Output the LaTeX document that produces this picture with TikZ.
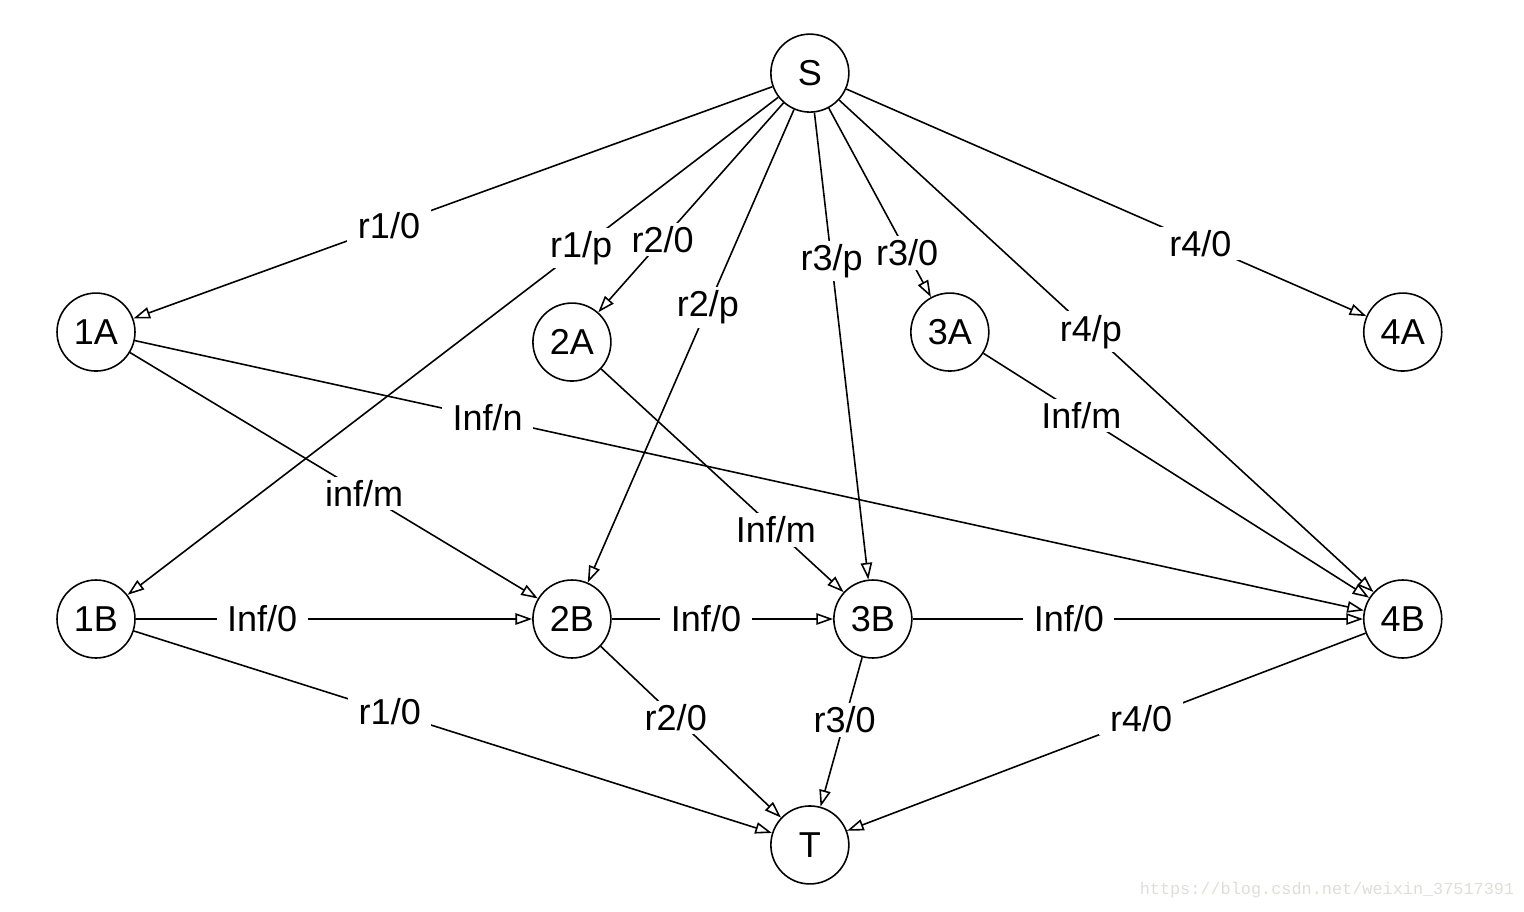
\documentclass[tikz,border=0pt]{standalone}
\usepackage{fontspec}
\setmainfont{Liberation Sans}
\setmonofont{Liberation Mono}
\usepackage{tikz}
\usetikzlibrary{positioning, arrows.meta}
\usepackage{xcolor}
\definecolor{wmgray}{RGB}{222,222,216}

\begin{document}
\begin{tikzpicture}[x=0.02cm, y=-0.02cm, on grid,
    vertex/.style={circle, draw, line width=0.9pt, minimum size=1.56cm, inner sep=0pt,
      font=\fontsize{20.5}{22}\selectfont},
    lbl/.style={fill=white, inner xsep=6pt, inner ysep=2pt, font=\fontsize{20.5}{22}\selectfont},
    wmark/.style={text=wmgray, font=\ttfamily\fontsize{9.6}{11}\selectfont, inner sep=0pt},
    every edge/.style={draw, line width=0.9pt},
    >={Triangle[open, length=9.5pt, width=6.5pt]}]
   \useasboundingbox (0,0) rectangle (1524,912);
   % unterste Reihe B
   \node[vertex] (b_1) at (96,619) {1B};
   \node[vertex] (b_2) [right=9.52cm of b_1] {2B};
   \node[vertex] (b_3) [right=6.02cm of b_2] {3B};
   \node[vertex] (b_4) [right=10.6cm of b_3] {4B};

   % Reihe A
   \node[vertex] (a_1) [above=5.74cm of b_1] {1A};
   \node[vertex] (a_2) [above=5.54cm of b_2] {2A};
   \node[vertex] (a_3) [above=5.74cm of b_3, xshift=1.54cm] {3A};
   \node[vertex] (a_4) [above=5.74cm of b_4] {4A};

   % Quelle und Senke
   \node[vertex] (s) [above=5.18cm of a_3, xshift=-2.8cm] {S};
   \node[vertex] (t) [below=4.52cm of b_3, xshift=-1.26cm] {T};

   \path[->]
    % von S
    (s) edge node[lbl, pos=0.600] {r1/0} (a_1)
    (s) edge node[lbl, pos=0.303] {r1/p} (b_1)
    (s) edge node[lbl, pos=0.653] {r2/0} (a_2)
    (s) edge node[lbl, pos=0.418] {r2/p} (b_2)
    (s) edge node[lbl, pos=0.318] {r3/p} (b_3)
    (s) edge node[lbl, pos=0.767] {r3/0} (a_3)
    (s) edge node[lbl, pos=0.471] {r4/p} (b_4)
    (s) edge node[lbl, pos=0.681] {r4/0} (a_4)

    % von A nach B
    (a_1) edge node[lbl, pos=0.287] {Inf/n} (b_4)
    (a_1) edge node[lbl, pos=0.574] {inf/m} (b_2)
    (a_2) edge node[lbl, pos=0.721] {Inf/m} (b_3)
    (a_3) edge node[lbl, pos=0.254] {Inf/m} (b_4)

    % innerhalb B
    (b_1) edge node[lbl, pos=0.319] {Inf/0} (b_2)
    (b_2) edge node[lbl, pos=0.426] {Inf/0} (b_3)
    (b_3) edge node[lbl, pos=0.347] {Inf/0} (b_4)

    % nach T
    (b_1) edge node[lbl, pos=0.401] {r1/0} (t)
    (b_2) edge node[lbl, pos=0.416] {r2/0} (t)
    (b_3) edge node[lbl, pos=0.419] {r3/0} (t)
    (b_4) edge node[lbl, pos=0.433] {r4/0} (t)
    ;

   \node[wmark] (wm) at (1327,890) {https://blog.csdn.net/weixin\_37517391};
\end{tikzpicture}
\end{document}
